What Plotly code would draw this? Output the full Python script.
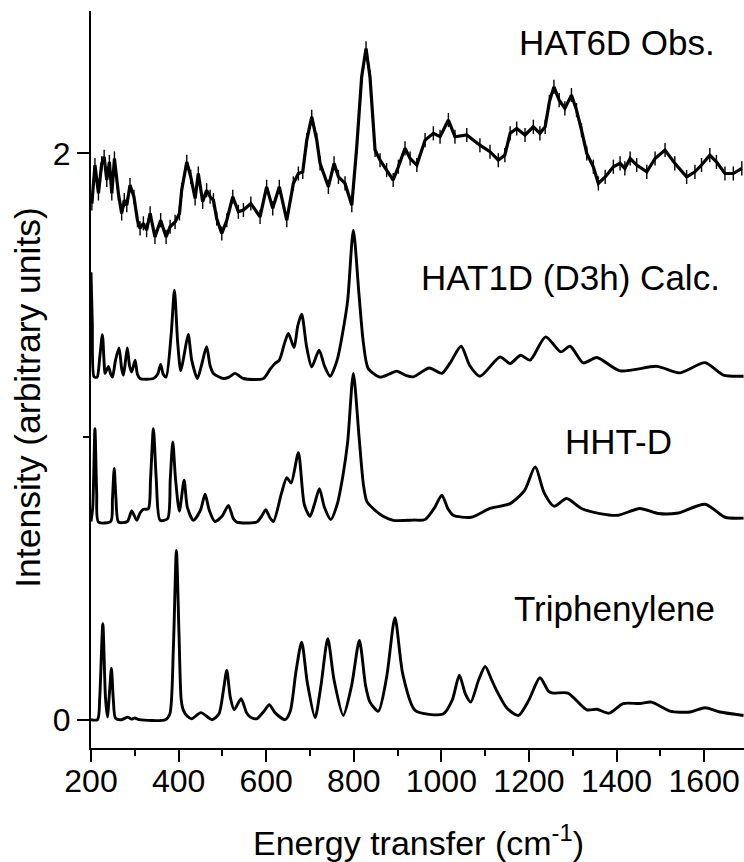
import plotly.graph_objects as go

# ---------------- data ----------------
tri_x = [200, 215, 220, 227, 233, 237.5, 242, 246.6, 251, 256, 270, 284, 292, 300, 310, 370, 380, 388, 395, 401,
         406, 411, 420, 430, 451, 476, 492, 502, 510, 518, 527, 542.7, 555, 563, 578, 595, 607, 620, 643, 655,
         668, 681, 694, 711.6, 725, 740.6, 755, 776, 795, 812.8, 827, 837, 856, 875, 894, 912, 940, 1004, 1025,
         1041, 1055, 1067, 1085, 1100, 1115, 1126, 1150, 1176, 1200, 1225, 1245, 1255, 1289, 1332, 1355, 1383,
         1415, 1453, 1480, 1522, 1568, 1602, 1636, 1690]
tri_y = [0.0, 0.0, 0.08, 0.339, 0.08, 0.01, 0.09, 0.182, 0.07, 0.005, 0.0, 0.009, 0.002, 0.006, 0.0, 0.0, 0.02,
         0.25, 0.598, 0.3, 0.07, 0.033, 0.012, 0.003, 0.025, 0.0, 0.02, 0.1, 0.174, 0.08, 0.035, 0.074, 0.025,
         0.01, 0.003, 0.03, 0.053, 0.025, 0.0, 0.03, 0.17, 0.274, 0.13, 0.007, 0.12, 0.286, 0.14, 0.015, 0.12,
         0.28, 0.12, 0.062, 0.03, 0.15, 0.36, 0.16, 0.033, 0.02, 0.07, 0.157, 0.09, 0.062, 0.14, 0.188, 0.14,
         0.103, 0.04, 0.015, 0.07, 0.148, 0.1, 0.094, 0.094, 0.035, 0.037, 0.023, 0.057, 0.057, 0.062, 0.03,
         0.027, 0.042, 0.027, 0.015]

hht_x = [200, 204, 209, 213, 217, 245, 249, 253, 257, 263, 283, 293, 304.5, 312, 320, 331, 336, 342.5, 349,
         357.8, 375, 381, 386.7, 393, 401.8, 412.6, 420, 433.8, 450, 460.5, 470, 483, 500, 513.7, 525, 533,
         578.5, 590, 599, 608, 616.5, 635, 647, 657, 673.5, 687, 700, 710, 721.5, 733, 747.5, 762, 775, 786,
         799, 812, 822, 830, 844.8, 865, 890, 936, 962.8, 985, 1001, 1015, 1027, 1068, 1111, 1157, 1190, 1214,
         1235, 1257, 1286, 1320, 1362, 1404, 1453, 1495, 1541, 1602, 1648, 1690]
hht_y = [0.70, 0.75, 1.028, 0.8, 0.698, 0.70, 0.78, 0.887, 0.78, 0.698, 0.70, 0.737, 0.704, 0.73, 0.743, 0.745,
         0.85, 1.028, 0.85, 0.704, 0.71, 0.85, 0.981, 0.85, 0.737, 0.846, 0.75, 0.704, 0.74, 0.796, 0.74, 0.70,
         0.72, 0.757, 0.71, 0.698, 0.698, 0.72, 0.742, 0.715, 0.70, 0.80, 0.855, 0.836, 0.943, 0.76, 0.718,
         0.76, 0.816, 0.75, 0.707, 0.76, 0.86, 0.98, 1.223, 1.0, 0.83, 0.77, 0.745, 0.72, 0.704, 0.705, 0.707,
         0.75, 0.793, 0.745, 0.722, 0.715, 0.746, 0.763, 0.81, 0.893, 0.8, 0.754, 0.781, 0.746, 0.728, 0.722,
         0.746, 0.728, 0.73, 0.761, 0.715, 0.712]

hat1_x = [200, 203, 207, 214, 220, 226, 230, 232, 239.7, 245, 249, 256, 264, 270, 274, 279, 283, 288, 293,
          300.7, 306, 312, 342.5, 352, 359, 365, 371.5, 383, 390.5, 398, 405, 414, 422, 430, 443, 452, 464,
          472, 479.5, 502, 515, 529, 548, 593.6, 610, 620, 630, 642, 650.7, 663.7, 672, 681, 692, 704, 720.8,
          733, 746, 762, 775, 786, 799, 812, 822, 833, 860, 880, 898, 920, 936, 972.6, 1001, 1020, 1045, 1065,
          1088, 1134, 1157, 1181, 1202.5, 1238, 1272.6, 1294, 1324, 1354.8, 1408, 1492, 1545, 1602, 1644, 1690]
hat1_y = [1.58, 1.40, 1.211, 1.21, 1.28, 1.36, 1.26, 1.223, 1.248, 1.22, 1.21, 1.27, 1.313, 1.24, 1.217, 1.27,
          1.313, 1.25, 1.228, 1.27, 1.22, 1.205, 1.205, 1.22, 1.255, 1.22, 1.21, 1.36, 1.517, 1.33, 1.232, 1.3,
          1.361, 1.27, 1.205, 1.25, 1.317, 1.25, 1.223, 1.205, 1.21, 1.223, 1.205, 1.205, 1.24, 1.258, 1.27,
          1.33, 1.364, 1.314, 1.39, 1.432, 1.32, 1.246, 1.305, 1.25, 1.213, 1.27, 1.37, 1.48, 1.729, 1.5, 1.33,
          1.24, 1.21, 1.22, 1.231, 1.215, 1.211, 1.242, 1.223, 1.26, 1.319, 1.25, 1.213, 1.281, 1.258, 1.287,
          1.27, 1.352, 1.299, 1.319, 1.26, 1.279, 1.232, 1.248, 1.225, 1.261, 1.217, 1.213]

obs_x = [202, 209, 217, 224.5, 230, 236, 242, 247.5, 253.5, 262.5, 270, 276, 281.7, 289, 298, 306, 312, 319.6,
         327, 335, 346, 359, 371.5, 380.6, 392, 402, 407, 418.7, 427.8, 437.7, 445, 455, 464, 472, 479.5, 487,
         498.6, 510, 523.7, 536.5, 548, 565, 586, 601, 615, 630, 647, 662, 673.5, 683.5, 692.7, 704, 715.5,
         723, 742, 755, 765, 780, 795.5, 806.8, 818, 828, 837, 848.6, 860, 875, 890, 901.8, 917, 928.6, 944,
         962.8, 981.7, 997, 1016, 1031, 1058, 1088, 1111, 1130, 1145, 1157, 1172, 1191, 1210, 1225, 1237,
         1246.6, 1257, 1269, 1282, 1297, 1308.6, 1320, 1332, 1347, 1358.5, 1374, 1392.7, 1408, 1419, 1431,
         1446, 1469, 1488, 1510.7, 1533, 1560, 1579, 1594, 1613, 1628, 1647.5, 1666.6, 1686]
obs_y = [1.823, 1.959, 1.859, 1.965, 1.988, 1.906, 1.97, 1.859, 1.982, 1.859, 1.788, 1.835, 1.817, 1.888, 1.847,
         1.764, 1.735, 1.753, 1.729, 1.788, 1.705, 1.764, 1.705, 1.741, 1.758, 1.788, 1.87, 1.97, 1.917, 1.841,
         1.929, 1.829, 1.87, 1.847, 1.835, 1.77, 1.717, 1.764, 1.847, 1.794, 1.8, 1.823, 1.776, 1.882, 1.806,
         1.882, 1.764, 1.894, 1.929, 1.935, 2.047, 2.129, 2.047, 1.965, 1.882, 1.965, 1.917, 1.894, 1.817,
         2.023, 2.27, 2.371, 2.27, 2.012, 1.976, 1.941, 1.906, 1.953, 2.018, 1.982, 1.959, 2.047, 2.071, 2.059,
         2.118, 2.059, 2.065, 2.029, 2.006, 1.976, 1.994, 2.071, 2.088, 2.065, 2.094, 2.071, 2.094, 2.182,
         2.235, 2.188, 2.159, 2.206, 2.153, 2.082, 2.0, 1.953, 1.894, 1.917, 1.953, 1.965, 1.947, 1.982, 1.959,
         1.935, 1.982, 2.012, 1.965, 1.917, 1.935, 1.959, 1.994, 1.97, 1.929, 1.929, 1.947]
obs_err = 0.025

x_ticks = [200, 400, 600, 800, 1000, 1200, 1400, 1600]
y_ticks = [0, 2]

labels = ["HAT6D Obs.", "HAT1D (D3h) Calc.", "HHT-D", "Triphenylene"]

# ---------------- figure ----------------
FONT = "Liberation Sans, Arial, sans-serif"
fig = go.Figure()

calc_line = dict(color="black", width=2.9, shape="spline", smoothing=0.7)
for xs, ys in [(tri_x, tri_y), (hht_x, hht_y), (hat1_x, hat1_y)]:
    fig.add_trace(go.Scatter(x=xs, y=ys, mode="lines", line=calc_line, showlegend=False))

fig.add_trace(go.Scatter(
    x=obs_x, y=obs_y, mode="lines",
    line=dict(color="black", width=3.2),
    error_y=dict(type="constant", value=obs_err, color="black", thickness=1.4, width=0),
    showlegend=False))

label_pos = [(1620, 2.39), (1631, 1.563), (1522, 0.981), (1620, 0.393)]
for txt, (lx, ly) in zip(labels, label_pos):
    fig.add_annotation(x=lx, y=ly, xref="x", yref="y", text=txt, showarrow=False,
                       xanchor="right", yanchor="middle", xshift=4,
                       font=dict(family=FONT, size=35, color="black"))

# axis titles as annotations
fig.add_annotation(x=0.5009, y=-0.126, xref="paper", yref="paper",
                   text="Energy transfer (cm<sup>-1</sup>)", showarrow=False,
                   xanchor="center", yanchor="middle",
                   font=dict(family=FONT, size=34, color="black"))
fig.add_annotation(x=-0.0955, y=0.476, xref="paper", yref="paper",
                   text="Intensity (arbitrary units)", showarrow=False, textangle=-90,
                   xanchor="center", yanchor="middle",
                   font=dict(family=FONT, size=35.5, color="black"))

fig.update_layout(
    width=744, height=862,
    margin=dict(l=91, r=0, t=11, b=114),
    paper_bgcolor="white", plot_bgcolor="white",
    font=dict(family=FONT, color="black"),
)
fig.update_xaxes(
    range=[200, 1691], tickvals=x_ticks, ticks="outside", ticklen=12, tickwidth=2,
    tickcolor="black", showline=True, linewidth=2, linecolor="black",
    showgrid=False, zeroline=False, tickfont=dict(size=32, family=FONT, color="black"),
    ticklabelstandoff=-8,
    minor=dict(dtick=100, tick0=200, ticks="outside", ticklen=6, tickwidth=2, tickcolor="black", showgrid=False),
)
fig.update_yaxes(
    range=[-0.1, 2.503], tickvals=y_ticks, ticks="outside", ticklen=12, tickwidth=2,
    tickcolor="black", showline=True, linewidth=2, linecolor="black",
    showgrid=False, zeroline=False, tickfont=dict(size=32, family=FONT, color="black"),
    minor=dict(tickvals=[1], ticks="outside", ticklen=6, tickwidth=2, tickcolor="black", showgrid=False),
)

fig.write_html("out.html")
